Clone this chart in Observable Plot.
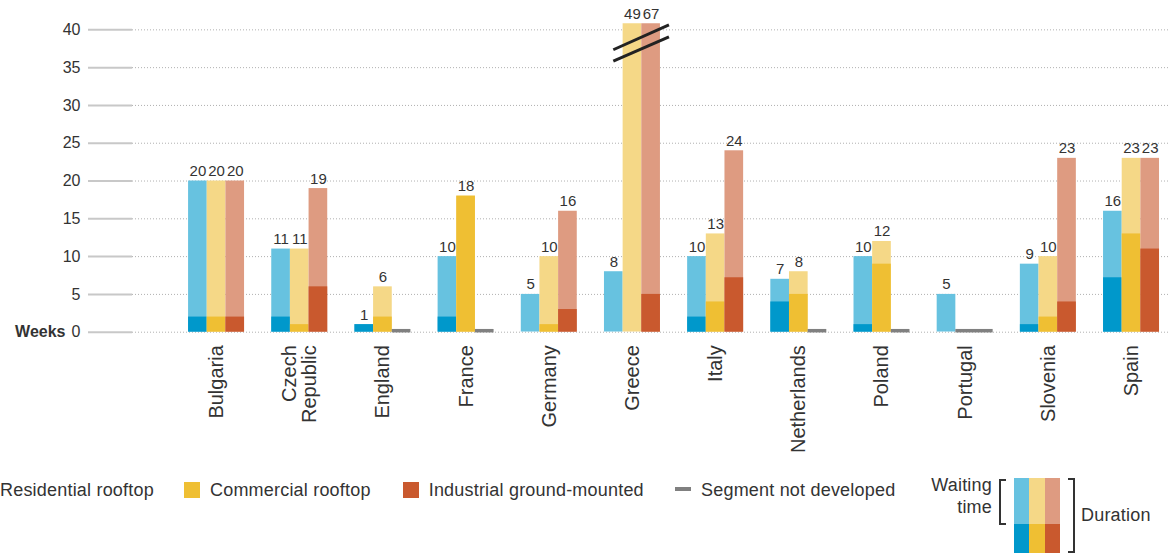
<!DOCTYPE html>
<html>
<head>
<meta charset="utf-8">
<script src="https://cdn.jsdelivr.net/npm/d3@7"></script>
<script src="https://cdn.jsdelivr.net/npm/@observablehq/plot@0.6"></script>
<style>
  body { margin: 0; background: #fff; font-family: "Liberation Sans", Arial, sans-serif; color: #333; }
  #wrap { position: relative; width: 1168px; height: 556px; overflow: hidden; }
  #legend { position: relative; width: 1168px; height: 86px; font-size: 18px; letter-spacing: 0.2px; color: #333; }
  #legend .sw { position: absolute; top: 12px; width: 16px; height: 16px; }
  #legend .lbl { position: absolute; top: 9px; line-height: 22px; white-space: nowrap; }
  #legend .dash { position: absolute; top: 17px; width: 16px; height: 4px; }
  #legend .wait { position: absolute; top: 4px; right: 176px; text-align: right; line-height: 22px; }
  #legend .brl { position: absolute; left: 999px; top: 9px; width: 5px; height: 42px; border: 2px solid #333; border-right: none; }
  #legend .brr { position: absolute; left: 1068px; top: 8px; width: 5px; height: 71px; border: 2px solid #333; border-left: none; }
  #legend .cell { position: absolute; }
  #legend .dur { position: absolute; left: 1081px; top: 34px; line-height: 22px; }
</style>
</head>
<body>
<div id="wrap">
  <div id="chart"></div>
  <div id="legend"></div>
</div>
<script>
// Countries along the x axis
const countries = ["Bulgaria", "Czech Republic", "England", "France", "Germany", "Greece",
                   "Italy", "Netherlands", "Poland", "Portugal", "Slovenia", "Spain"];

// Segments and their colours (light = waiting time, dark = remaining duration)
const segments = ["Residential rooftop", "Commercial rooftop", "Industrial ground-mounted"];
const waitingColors = ["#67c2e0", "#f5d887", "#de9b81"];
const durationColors = ["#0098cb", "#efbf33", "#c9592e"];
const notDevelopedColor = "#808080";

// Total duration in weeks (null = segment not developed)
const residentialTotal = [20, 11, 1, 10, 5, 8, 10, 7, 10, 5, 9, 16];
const commercialTotal  = [20, 11, 6, 18, 10, 49, 13, 8, 12, null, 10, 23];
const industrialTotal  = [20, 19, null, null, 16, 67, 24, null, null, null, 23, 23];

// Part of the duration that is not waiting time (dark base of each bar)
const residentialBase = [2, 2, 1, 2, 0, 0, 2, 4, 1, 0, 1, 7.2];
const commercialBase  = [2, 1, 2, 18, 1, 0, 4, 5, 9, null, 2, 13];
const industrialBase  = [2, 6, null, null, 3, 5, 7.2, null, null, null, 4, 11];

// Axis ticks in weeks; the scale stops just above 40, taller bars are cut
const yTicks = [0, 5, 10, 15, 20, 25, 30, 35, 40];
const yTop = 40.8;

// The broken Greece bars get two slanted strokes (weeks at left and right end)
const breakStrokes = [[37.3, 40.6], [35.8, 39.0]];

const totals = [residentialTotal, commercialTotal, industrialTotal];
const bases = [residentialBase, commercialBase, industrialBase];

const rows = countries.flatMap((country, i) =>
  segments.map((segment, j) => ({
    country, segment: j,
    total: totals[j][i],
    base: bases[j][i]
  }))
);

// Layout of the band scale
const width = 1168, height = 470;
const marginLeft = 132, marginRight = 0, marginTop = 23.3, marginBottom = 138.3;
const padIn = 0.327, padOut = 0.391, align = 0.862;
const step = (width - marginLeft - marginRight) / (countries.length - padIn + 2 * padOut);
const bandwidth = step * (1 - padIn);
const slot = bandwidth / 3;

const segmentMarks = segments.flatMap((_, j) => {
  const inset = {insetLeft: j * slot, insetRight: (2 - j) * slot};
  const present = rows.filter(d => d.segment === j && d.total != null);
  const absent = rows.filter(d => d.segment === j && d.total == null);
  return [
    Plot.barY(present, {x: "country", y1: 0, y2: "total", fill: waitingColors[j], clip: true, ...inset}),
    Plot.barY(present.filter(d => d.base > 0), {x: "country", y1: 0, y2: "base", fill: durationColors[j], ...inset}),
    Plot.tickY(absent, {x: "country", y: 0, stroke: notDevelopedColor, strokeWidth: 3.5, dy: -1.5, ...inset}),
    Plot.text(present, {
      x: "country", y: d => Math.min(d.total, yTop), text: d => String(d.total),
      dx: (j - 1) * slot, dy: -5, lineAnchor: "bottom", fontSize: 15, fill: "#333"
    })
  ];
});

const chart = Plot.plot({
  width, height, marginLeft, marginRight, marginTop, marginBottom,
  style: {fontFamily: "'Liberation Sans', Arial, sans-serif", color: "#333", background: "#fff"},
  x: {type: "band", domain: countries, paddingInner: padIn, paddingOuter: padOut, align, round: false, label: null},
  y: {domain: [0, yTop], label: null},
  marks: [
    Plot.gridY(yTicks, {stroke: "#b0b0b0", strokeOpacity: 1, strokeDasharray: "1,2"}),
    Plot.axisY(yTicks, {tickSize: 44, tickPadding: 8, stroke: "#c8c8c8", strokeWidth: 2,
                        fontSize: 16, label: null, style: {letterSpacing: "1px"}}),
    Plot.text([0], {y: d => d, text: () => "Weeks", frameAnchor: "left", textAnchor: "end",
                    dx: -67, fontSize: 16, fontWeight: "bold", fill: "#333"}),
    Plot.axisX({tickSize: 0, tickPadding: 13, tickRotate: -90, fontSize: 20, label: null,
                tickFormat: d => d.replace(" ", "\n")}),
    ...segmentMarks
  ]
});
document.getElementById("chart").appendChild(chart);

// Slanted strokes over the cut Greece bars
{
  const sx = chart.scale("x"), sy = chart.scale("y");
  const x0 = sx.apply("Greece") + slot / 2;
  const x1 = sx.apply("Greece") + bandwidth + 9;
  d3.select(chart).append("g")
    .selectAll("line").data(breakStrokes).join("line")
    .attr("x1", x0).attr("x2", x1)
    .attr("y1", d => sy.apply(d[0])).attr("y2", d => sy.apply(d[1]))
    .attr("stroke", "#222").attr("stroke-width", 3);
}

// Legend
{
  const legend = d3.select("#legend");
  const swatchLeft = [-26, 184, 402.7];
  segments.forEach((name, j) => {
    legend.append("div").attr("class", "sw").style("left", swatchLeft[j] + "px").style("background", durationColors[j]);
    legend.append("div").attr("class", "lbl").style("left", (swatchLeft[j] + 26) + "px").text(name);
  });
  legend.append("div").attr("class", "dash").style("left", "675px").style("background", notDevelopedColor);
  legend.append("div").attr("class", "lbl").style("left", "701px").text("Segment not developed");

  legend.append("div").attr("class", "wait").html("Waiting<br>time");
  legend.append("div").attr("class", "brl");
  const cellW = 46 / 3;
  segments.forEach((_, j) => {
    legend.append("div").attr("class", "cell")
      .style("left", (1014 + j * cellW) + "px").style("top", "8.3px")
      .style("width", cellW + 0.3 + "px").style("height", "45.7px").style("background", waitingColors[j]);
    legend.append("div").attr("class", "cell")
      .style("left", (1014 + j * cellW) + "px").style("top", "54px")
      .style("width", cellW + 0.3 + "px").style("height", "29.3px").style("background", durationColors[j]);
  });
  legend.append("div").attr("class", "brr");
  legend.append("div").attr("class", "dur").text("Duration");
}
</script>
</body>
</html>
